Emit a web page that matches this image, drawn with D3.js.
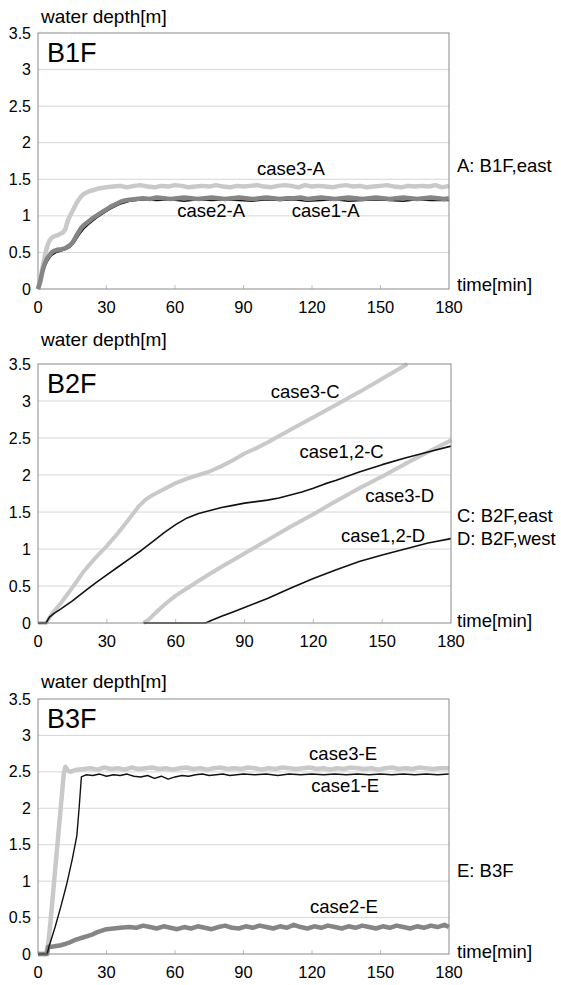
<!DOCTYPE html>
<html>
<head>
<meta charset="utf-8">
<script src="https://cdn.jsdelivr.net/npm/d3@7"></script>
<style>
  html, body { margin: 0; padding: 0; background: #fff; }
  svg { display: block; font-family: "Liberation Sans", Arial, sans-serif; }
</style>
</head>
<body>
<div id="chart"></div>
<script>
// Axis ticks shared by all three panels
const timeTicks = [0, 30, 60, 90, 120, 150, 180];
const depthTicks = [0, 0.5, 1, 1.5, 2, 2.5, 3, 3.5];
const depthTickLabels = ['0', '0.5', '1', '1.5', '2', '2.5', '3', '3.5'];

// B1F - point A (east)
const b1Case3A = [[0,0],[1,0.12],[2,0.3],[3,0.45],[4,0.58],[5,0.66],[6,0.7],[7,0.72],[8,0.73],[9,0.74],[10,0.76],[11,0.77],[12,0.82],[13,0.93],[14,1.0],[15,1.06],[16,1.12],[17,1.18],[18,1.23],[19,1.27],[20,1.3],[22,1.33],[24,1.35],[26,1.37],[28,1.38],[30,1.39],
  [33,1.4],[36,1.41],[39,1.39],[42,1.41],[45,1.42],[48,1.4],[51,1.39],[54,1.41],[57,1.4],[60,1.42],[63,1.41],[66,1.39],[69,1.4],[72,1.41],[75,1.4],[78,1.42],[81,1.4],[84,1.39],[87,1.41],[90,1.4],[93,1.41],[96,1.42],[99,1.4],[102,1.39],[105,1.41],[108,1.42],[111,1.41],[114,1.39],[117,1.42],[120,1.4],[123,1.41],[126,1.4],[129,1.39],[132,1.41],[135,1.42],[138,1.4],[141,1.41],[144,1.39],[147,1.4],[150,1.41],[153,1.42],[156,1.4],[159,1.39],[162,1.41],[165,1.4],[168,1.41],[171,1.4],[174,1.42],[177,1.39],[180,1.41]];
const b1Case2A = [[0,0],[1,0.1],[2,0.25],[3,0.35],[4,0.42],[5,0.46],[6,0.5],[7,0.52],[8,0.53],[9,0.54],[10,0.54],[11,0.55],[12,0.56],[13,0.58],[14,0.6],[15,0.63],[16,0.68],[17,0.74],[18,0.79],[19,0.84],[20,0.87],[22,0.92],[24,0.97],[26,1.01],[28,1.05],[30,1.09],[32,1.13],[34,1.16],[36,1.19],[38,1.21],[40,1.22],[43,1.23],
  [46,1.24],[49,1.23],[52,1.25],[55,1.24],[58,1.23],[61,1.24],[64,1.25],[67,1.24],[70,1.23],[73,1.24],[76,1.25],[79,1.24],[82,1.23],[85,1.24],[88,1.25],[91,1.24],[94,1.23],[97,1.24],[100,1.25],[103,1.24],[106,1.23],[109,1.24],[112,1.24],[115,1.25],[118,1.23],[121,1.24],[124,1.25],[127,1.24],[130,1.23],[133,1.24],[136,1.25],[139,1.24],[142,1.23],[145,1.24],[148,1.25],[151,1.24],[154,1.23],[157,1.24],[160,1.25],[163,1.24],[166,1.23],[169,1.24],[172,1.25],[175,1.24],[178,1.23],[180,1.24]];
const b1Case1A = [[0,0],[1,0.08],[2,0.2],[3,0.3],[4,0.37],[5,0.42],[6,0.46],[8,0.5],[10,0.52],[12,0.54],[14,0.57],[16,0.64],[18,0.74],[20,0.82],[22,0.88],[24,0.93],[26,0.98],[28,1.02],[30,1.06],[32,1.1],[34,1.13],[36,1.16],[38,1.18],[40,1.2],[43,1.21],
  [46,1.22],[52,1.21],[58,1.22],[64,1.2],[70,1.22],[76,1.21],[82,1.22],[88,1.21],[94,1.2],[100,1.22],[106,1.21],[112,1.22],[118,1.2],[124,1.21],[130,1.22],[136,1.2],[142,1.21],[148,1.22],[154,1.21],[160,1.2],[166,1.22],[172,1.21],[180,1.21]];

// B2F - points C (east) and D (west)
const b2Case3C = [[0,0],[3.5,0],[6,0.12],[10,0.27],[15,0.48],[20,0.7],[25,0.88],[30,1.04],[35,1.22],[40,1.42],[44,1.58],[47,1.67],[50,1.73],[55,1.81],[60,1.89],[65,1.95],[70,2.0],[75,2.05],[80,2.12],[85,2.2],[90,2.29],[95,2.36],[100,2.44],[110,2.61],[120,2.78],[130,2.95],[140,3.12],[150,3.3],[161,3.5]];
const b2Case12C = [[0,0],[3.5,0],[5,0.08],[7,0.13],[10,0.19],[15,0.3],[20,0.42],[25,0.54],[30,0.65],[35,0.76],[40,0.87],[45,0.98],[50,1.1],[55,1.22],[60,1.33],[65,1.42],[70,1.48],[75,1.52],[80,1.56],[85,1.59],[90,1.62],[95,1.64],[100,1.66],[105,1.69],[110,1.73],[115,1.77],[120,1.82],[125,1.88],[130,1.93],[140,2.04],[150,2.14],[160,2.23],[170,2.31],[180,2.39]];
const b2Case3D = [[46,0],[48,0.04],[50,0.1],[53,0.19],[56,0.27],[60,0.37],[65,0.47],[70,0.57],[80,0.76],[90,0.94],[100,1.12],[110,1.3],[120,1.47],[130,1.65],[140,1.82],[150,1.98],[160,2.15],[170,2.31],[180,2.47]];
const b2Case12D = [[46,0],[73,0],[76,0.04],[80,0.09],[85,0.15],[90,0.21],[95,0.27],[100,0.33],[110,0.47],[120,0.6],[130,0.72],[140,0.83],[150,0.92],[160,1.0],[170,1.08],[180,1.14]];

// B3F - point E
const b3Case3E = [[0,0],[3.5,0],[4.5,0.15],[5.5,0.45],[6.5,0.8],[7.5,1.15],[8.5,1.5],[9.5,1.85],[10.5,2.2],[11.3,2.48],[12,2.57],[13,2.52],[14,2.5],[15,2.51],[17,2.53],
  [20,2.54],[23,2.55],[26,2.53],[29,2.56],[32,2.54],[35,2.55],[38,2.53],[41,2.56],[44,2.54],[47,2.55],[50,2.56],[53,2.54],[56,2.55],[59,2.53],[62,2.55],[65,2.56],[68,2.54],[71,2.55],[74,2.53],[77,2.55],[80,2.56],[83,2.54],[86,2.55],[89,2.54],[92,2.56],[95,2.55],[98,2.53],[101,2.55],[104,2.54],[107,2.56],[110,2.55],[113,2.54],[116,2.55],[119,2.56],[122,2.54],[125,2.55],[128,2.53],[131,2.55],[134,2.54],[137,2.56],[140,2.55],[143,2.54],[146,2.55],[149,2.53],[152,2.55],[155,2.56],[158,2.54],[161,2.55],[164,2.54],[167,2.56],[170,2.55],[173,2.54],[176,2.55],[180,2.55]];
const b3Case1E = [[0,0],[4,0],[5,0.12],[7.5,0.37],[10,0.65],[12.5,0.95],[15,1.3],[17,1.62],[18,2.0],[19,2.43],[21,2.46],[24,2.45],[27,2.47],[30,2.44],[33,2.46],[36,2.45],[39,2.47],[42,2.44],[45,2.43],[48,2.45],[51,2.41],[54,2.44],[57,2.4],[60,2.43],[63,2.45],[66,2.44],[69,2.46],[72,2.47],[75,2.45],[78,2.46],[81,2.47],[84,2.45],[87,2.46],[90,2.47],[95,2.46],[100,2.47],[105,2.45],[110,2.47],[115,2.46],[120,2.47],[125,2.46],[130,2.47],[135,2.46],[140,2.47],[145,2.46],[150,2.47],[155,2.46],[160,2.47],[165,2.46],[170,2.47],[175,2.46],[180,2.47]];
const b3Case2E = [[0,0],[4,0],[4.5,0.1],[6,0.1],[8,0.11],[10,0.12],[12,0.14],[14,0.16],[16,0.19],[18,0.21],[20,0.23],[22,0.25],[24,0.27],[26,0.3],[28,0.32],[30,0.34],[33,0.35],[36,0.36],[40,0.37],
  [43,0.36],[46,0.39],[49,0.37],[52,0.35],[55,0.38],[58,0.36],[61,0.34],[64,0.37],[67,0.35],[70,0.38],[73,0.36],[76,0.34],[79,0.37],[82,0.39],[85,0.36],[88,0.35],[91,0.38],[94,0.36],[97,0.39],[100,0.37],[103,0.35],[106,0.38],[109,0.36],[112,0.4],[115,0.37],[118,0.35],[121,0.38],[124,0.36],[127,0.39],[130,0.37],[133,0.35],[136,0.38],[139,0.36],[142,0.39],[145,0.37],[148,0.35],[151,0.38],[154,0.36],[157,0.39],[160,0.37],[163,0.35],[166,0.38],[169,0.36],[172,0.39],[175,0.37],[178,0.4],[180,0.37]];

const LIGHT = '#c9c9c9', DARK = '#858585', BLACK = '#111';

const panels = [
  {
    name: 'B1F', top: 33, bottom: 289, right: 449, titleY: 23,
    series: [
      { data: b1Case3A, color: LIGHT, width: 4.5 },
      { data: b1Case1A, color: BLACK, width: 1.5 },
      { data: b1Case2A, color: DARK, width: 4.5 }
    ],
    labels: [
      { text: 'case3-A', t: 110.8, v: 1.56 },
      { text: 'case2-A', t: 75.8, v: 0.98 },
      { text: 'case1-A', t: 126, v: 0.98 }
    ],
    side: [{ text: 'A: B1F,east', y: 172 }],
    timeY: 291
  },
  {
    name: 'B2F', top: 364, bottom: 623, right: 451, titleY: 346,
    series: [
      { data: b2Case3C, color: LIGHT, width: 4 },
      { data: b2Case3D, color: LIGHT, width: 4 },
      { data: b2Case12C, color: BLACK, width: 1.6 },
      { data: b2Case12D, color: BLACK, width: 1.6 }
    ],
    labels: [
      { text: 'case3-C', t: 116.4, v: 3.04 },
      { text: 'case1,2-C', t: 132.3, v: 2.23 },
      { text: 'case3-D', t: 157.6, v: 1.64 },
      { text: 'case1,2-D', t: 150.4, v: 1.09 }
    ],
    side: [{ text: 'C: B2F,east', y: 522 }, { text: 'D: B2F,west', y: 545 }],
    timeY: 627
  },
  {
    name: 'B3F', top: 699, bottom: 954, right: 449, titleY: 688,
    series: [
      { data: b3Case3E, color: LIGHT, width: 4.5 },
      { data: b3Case2E, color: DARK, width: 4.5 },
      { data: b3Case1E, color: BLACK, width: 1.4 }
    ],
    labels: [
      { text: 'case3-E', t: 133.6, v: 2.66 },
      { text: 'case1-E', t: 134.5, v: 2.22 },
      { text: 'case2-E', t: 134, v: 0.56 }
    ],
    side: [{ text: 'E: B3F', y: 877 }],
    timeY: 958
  }
];

const svg = d3.select('#chart').append('svg')
  .attr('width', 561)
  .attr('height', 985);

svg.append('rect').attr('width', 561).attr('height', 985).attr('fill', '#fff');

const left = 38;

panels.forEach(p => {
  const x = d3.scaleLinear().domain([0, 180]).range([left, p.right]);
  const y = d3.scaleLinear().domain([0, 3.5]).range([p.bottom, p.top]);
  const g = svg.append('g');

  // gridlines
  g.selectAll('.grid').data(depthTicks.slice(1, -1)).enter().append('line')
    .attr('x1', left).attr('x2', p.right)
    .attr('y1', d => y(d)).attr('y2', d => y(d))
    .attr('stroke', '#d6d6d6').attr('stroke-width', 1);

  // small inner ticks on the time axis
  g.selectAll('.xt').data(timeTicks.slice(1, -1)).enter().append('line')
    .attr('x1', d => x(d)).attr('x2', d => x(d))
    .attr('y1', p.bottom).attr('y2', p.bottom - 4)
    .attr('stroke', '#c0c0c0');

  // series
  const line = d3.line().x(d => x(d[0])).y(d => y(d[1]));
  g.selectAll('.series').data(p.series).enter().append('path')
    .attr('d', d => line(d.data))
    .attr('fill', 'none')
    .attr('stroke', d => d.color)
    .attr('stroke-width', d => d.width)
    .attr('stroke-linejoin', 'round');

  // frame
  g.append('rect')
    .attr('x', left).attr('y', p.top)
    .attr('width', p.right - left).attr('height', p.bottom - p.top)
    .attr('fill', 'none').attr('stroke', '#8a8a8a').attr('stroke-width', 1);

  // y tick labels
  g.selectAll('.yl').data(depthTicks).enter().append('text')
    .attr('x', 31).attr('y', d => y(d)).attr('dy', '0.35em')
    .attr('text-anchor', 'end').attr('font-size', 16)
    .text((d, i) => depthTickLabels[i]);

  // x tick labels
  g.selectAll('.xl').data(timeTicks).enter().append('text')
    .attr('x', d => x(d)).attr('y', p.bottom + 24)
    .attr('text-anchor', 'middle').attr('font-size', 16.5)
    .text(d => d);

  g.append('text').attr('x', 41).attr('y', p.titleY)
    .attr('font-size', 19).text('water depth[m]');

  g.append('text').attr('x', 47).attr('y', y(3.5) + 29)
    .attr('font-size', 27).text(p.name);

  g.selectAll('.lab').data(p.labels).enter().append('text')
    .attr('x', d => x(d.t)).attr('y', d => y(d.v))
    .attr('text-anchor', 'middle').attr('font-size', 18.5)
    .text(d => d.text);

  g.selectAll('.side').data(p.side).enter().append('text')
    .attr('x', 457).attr('y', d => d.y)
    .attr('font-size', 18.5).text(d => d.text);

  g.append('text').attr('x', 457).attr('y', p.timeY)
    .attr('font-size', 18.5).text('time[min]');
});
</script>
</body>
</html>
